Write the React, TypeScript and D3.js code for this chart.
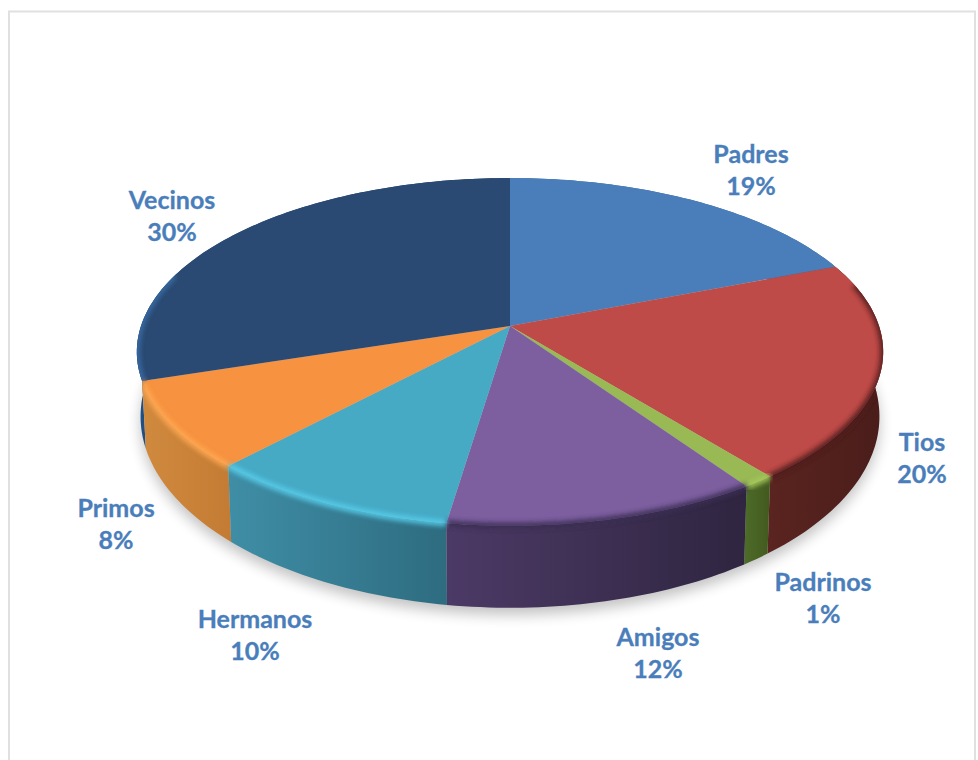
import React from "react";
import * as d3 from "d3";

const categories = ["Padres", "Tios", "Padrinos", "Amigos", "Hermanos", "Primos", "Vecinos"];
const values = [19, 20.3, 1.2, 11.85, 9.55, 8.1, 30];
const topColors = ["#4a7ebb", "#be4b48", "#98b954", "#7d5fa0", "#46aac5", "#f69240", "#2a4a73"];
const sideLeft = ["#3a6494", "#5a2420", "#4c6a28", "#4c3a66", "#3f8ea6", "#d08a3e", "#214f82"];
const sideRight = ["#3a6494", "#4a1d1a", "#43591f", "#2f2540", "#2e6c80", "#c47c34", "#1d3a60"];
const bevelColors = ["#4a7ebb", "#4e1f1c", "#a6c95c", "#3b2d52", "#58cdea", "#ffa852", "#3a6ea8"];
const labelCenters: [number, number][] = [[751, 170], [922, 458], [823, 598], [658, 653], [255, 635], [116, 524], [172, 216]];

const W = 978, H = 760;
const hub = { x: 510, y: 326 };
const persp = 0.149, kx = 369, ky = 170;
const lowerScaleX = 0.99, lowerScaleY = 1.1, lowerHubY = 388;

const top = (a: number): [number, number] => {
  const u = Math.sin(a), v = -Math.cos(a), w = 1 - persp * v;
  return [hub.x + (kx * u) / w, hub.y + (ky * v) / w];
};
const bottom = (a: number): [number, number] => {
  const [x, y] = top(a);
  return [hub.x + (x - hub.x) * lowerScaleX, lowerHubY + (y - hub.y) * lowerScaleY];
};
const samples = (a0: number, a1: number) => {
  const n = Math.max(4, Math.ceil((a1 - a0) / 0.02));
  return d3.range(n + 1).map((i) => a0 + ((a1 - a0) * i) / n);
};

const arcs = d3.pie<number>().sort(null).value((d) => d)(values);
const line = d3.line().curve(d3.curveLinear);
const sideOrder = [0, 6, 1, 5, 2, 4, 3];
const pct = d3.format(".0f");

export default function App() {
  const full = samples(0, Math.PI * 2);
  const shadowPath = line(full.map((a) => { const [x, y] = bottom(a); return [x, y + 7] as [number, number]; })) + "Z";
  const sidePaths = arcs.map((d) => {
    const s = samples(d.startAngle, d.endAngle);
    return line([...s.map(top), ...s.slice().reverse().map(bottom)]) + "Z";
  });
  return (
    <svg width={W} height={H} viewBox={`0 0 ${W} ${H}`} style={{ position: "fixed", left: 0, top: 0, background: "#fff" }}>
      <defs>
        <filter id="sh" x="-10%" y="-10%" width="120%" height="130%"><feGaussianBlur stdDeviation="7" /></filter>
        <filter id="bv" x="-10%" y="-30%" width="120%" height="160%"><feGaussianBlur stdDeviation="2.6" /></filter>
        <clipPath id="bodyClip">
          <path d={line(full.map(top)) + "Z"} />
          {sidePaths.map((p, i) => <path key={i} d={p} />)}
        </clipPath>
        {arcs.map((d, i) => {
          const xs = samples(d.startAngle, d.endAngle).map((a) => top(a)[0]);
          return (
            <linearGradient key={i} id={`side${i}`} gradientUnits="userSpaceOnUse" x1={d3.min(xs)} x2={d3.max(xs)} y1={0} y2={0}>
              <stop offset="0" stopColor={sideLeft[i]} />
              <stop offset="1" stopColor={sideRight[i]} />
            </linearGradient>
          );
        })}
      </defs>
      <rect x={9} y={11.5} width={966} height={H + 20} fill="none" stroke="#e0e0e0" strokeWidth={2} />
      <path d={shadowPath} fill="#000" opacity={0.24} filter="url(#sh)" />
      {sideOrder.map((i) => <path key={i} d={sidePaths[i]} fill={`url(#side${i})`} />)}
      {arcs.map((d, i) => {
        const pts: [number, number][] = [[hub.x, hub.y], ...samples(d.startAngle, d.endAngle).map(top)];
        return <path key={i} d={line(pts) + "Z"} fill={topColors[i]} />;
      })}
      <g clipPath="url(#bodyClip)">
        {arcs.map((d, i) => {
          const lo = Math.max(d.startAngle, Math.PI * 0.42);
          const hi = Math.min(d.endAngle, Math.PI * 1.6);
          if (hi <= lo) return null;
          const pts = samples(lo, hi).map(top);
          return <path key={i} d={line(pts) ?? ""} fill="none" stroke={bevelColors[i]} strokeWidth={6} filter="url(#bv)" opacity={0.95} />;
        })}
      </g>
      {categories.map((c, i) => (
        <text key={c} x={labelCenters[i][0]} y={labelCenters[i][1]} textAnchor="middle" fontFamily="Lato, sans-serif" fontWeight={700} fontSize={25} fill="#4a7ebb" stroke="#4a7ebb" strokeWidth={0.3}>
          <tspan x={labelCenters[i][0]} dy={-7}>{c}</tspan>
          <tspan x={labelCenters[i][0]} dy={32}>{pct(values[i])}%</tspan>
        </text>
      ))}
    </svg>
  );
}
